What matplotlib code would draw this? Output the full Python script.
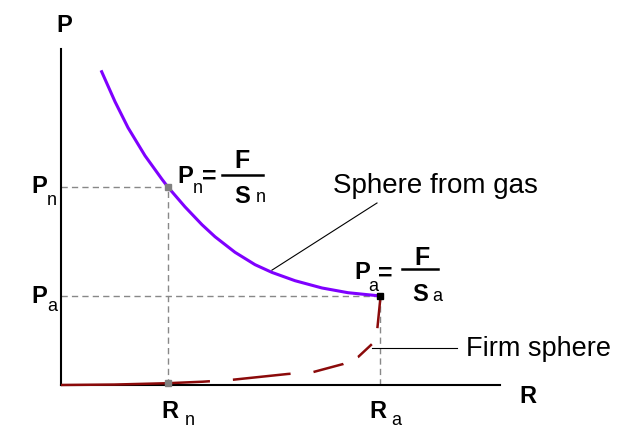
import matplotlib
matplotlib.use("Agg")
import matplotlib.pyplot as plt
from matplotlib.lines import Line2D

plt.rcParams['font.family'] = ['Liberation Sans', 'DejaVu Sans']

# gas sphere curve P(R)
gas_R = [0.382, 0.507, 0.629, 0.789, 0.948, 1.00, 1.164, 1.324, 1.446, 1.634,
         1.822, 1.981, 2.197, 2.451, 2.695, 3.00]
gas_P = [3.520, 3.184, 2.892, 2.576, 2.312, 2.23, 2.002, 1.801, 1.666, 1.491,
         1.352, 1.265, 1.172, 1.090, 1.037, 1.00]

# firm sphere curve
firm_R = [0.00, 0.50, 1.00, 1.33, 1.62, 2.13, 2.37, 2.65, 2.79, 2.92, 2.97, 3.00]
firm_P = [0.00, 0.005, 0.02, 0.037, 0.06, 0.124, 0.146, 0.236, 0.315, 0.46, 0.63, 0.99]

Rn, Pn = 1.0, 2.23
Ra, Pa = 3.0, 1.0

W, H = 633, 431
fig = plt.figure(figsize=(W / 100, H / 100), dpi=100)
ax = fig.add_axes([61 / W, 45 / H, 439 / W, 336 / H])
ax.set_xlim(0, 439 / 106.5)
ax.set_ylim(0, 336 / 89)
for s in ['top', 'right']:
    ax.spines[s].set_visible(False)
for s in ['left', 'bottom']:
    ax.spines[s].set_linewidth(1.5)
    ax.spines[s].set_color('black')
ax.set_xticks([])
ax.set_yticks([])

# guide lines
guide = dict(color='#888888', lw=1, dashes=(4.5, 3), zorder=1)
ax.plot([0, Rn], [Pn, Pn], **guide)
ax.plot([0, Ra], [Pa, Pa], **guide)
ax.plot([Rn, Rn], [0, Pn], **guide)
ax.plot([Ra, Ra], [0, Pa], **guide)

# curves
lw_red = 1.8
k = 0.72 / lw_red
ax.plot(firm_R, firm_P, color='#8b0a0a', lw=lw_red,
        dashes=[149 * k, 23 * k, 58 * k, 23 * k, 31 * k, 16 * k, 19 * k, 17 * k, 40 * k, 5 * k],
        solid_capstyle='butt', zorder=3, clip_on=False)
ax.plot(gas_R, gas_P, color='#7f00ff', lw=2.2, zorder=4)

ax.plot([Rn, Rn], [Pn, 0.02], ls='none', marker='s', ms=5, color='#808080', zorder=5, clip_on=False)
ax.plot([Ra], [Pa], ls='none', marker='s', ms=5, color='black', zorder=5)

# leaders
ax.plot([1.98, 2.967], [1.29, 2.045], color='black', lw=0.8)
ax.plot([2.92, 3.72], [0.416, 0.416], color='black', lw=0.8, clip_on=False)


def at(x, y):
    return x / W, 1 - y / H


def txt(x, y, s, size, bold=True, **kw):
    fig.text(*at(x, y), s, fontsize=size, fontweight='bold' if bold else 'normal',
             ha='left', va='baseline', **kw)


def bar(x1, x2, y):
    fig.add_artist(Line2D([x1 / W, x2 / W], [1 - y / H, 1 - y / H],
                          transform=fig.transFigure, color='black', lw=1.8))


# axis names
txt(56, 32, 'P', 17)
txt(519, 403, 'R', 17)

# axis value labels
txt(31, 193, 'P', 17)
txt(47, 205, 'n', 13, bold=False)
txt(31, 303, 'P', 17)
txt(47, 311, 'a', 13, bold=False)
txt(161, 418, 'R', 17)
txt(185, 425, 'n', 13, bold=False)
txt(369, 418, 'R', 17)
txt(391, 425, 'a', 13, bold=False)

# formula Pn = F / Sn
txt(177, 183, 'P', 17)
txt(193, 193, 'n', 13, bold=False)
txt(202, 184, '=', 18)
bar(222, 263, 176)
txt(234, 168, 'F', 18)
txt(234, 203, 'S', 17)
txt(256, 202, 'n', 13, bold=False)

# formula Pa = F / Sa
txt(354, 279, 'P', 17)
txt(368, 291, 'a', 13, bold=False)
txt(378, 281, '=', 18)
bar(402, 438, 270)
txt(414, 265, 'F', 18)
txt(412, 301, 'S', 17)
txt(432, 301, 'a', 13, bold=False)

txt(333, 193, 'Sphere from gas', 20, bold=False)
txt(466, 356, 'Firm sphere', 19.5, bold=False)

fig.savefig('out.png', dpi=100)
